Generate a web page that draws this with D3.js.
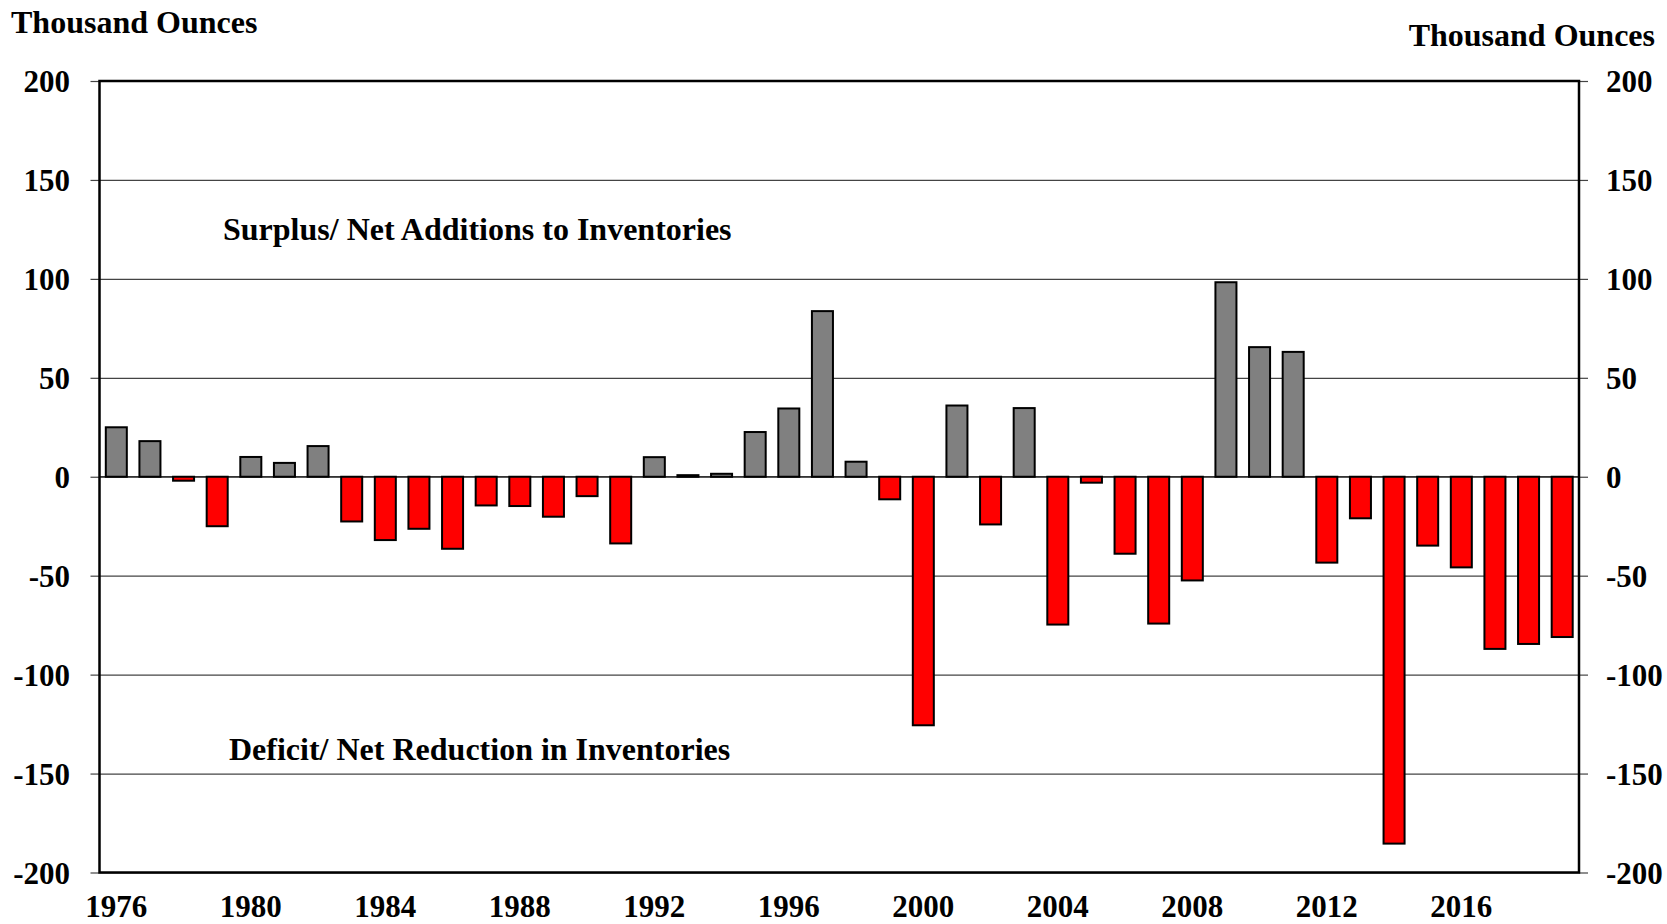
<!DOCTYPE html>
<html>
<head>
<meta charset="utf-8">
<script src="https://cdn.jsdelivr.net/npm/d3@7"></script>
<style>
  body { margin: 0; background: #fff; }
  text { font-family: "Liberation Serif", "Times New Roman", serif; font-weight: bold; fill: #000; }
</style>
</head>
<body>
<div class="barChart"></div>
<script>
// Data
var years = [1976, 1977, 1978, 1979, 1980, 1981, 1982, 1983, 1984, 1985,
             1986, 1987, 1988, 1989, 1990, 1991, 1992, 1993, 1994, 1995,
             1996, 1997, 1998, 1999, 2000, 2001, 2002, 2003, 2004, 2005,
             2006, 2007, 2008, 2009, 2010, 2011, 2012, 2013, 2014, 2015,
             2016, 2017, 2018, 2019];
var balance = [25, 18, -2, -25, 10, 7, 15.5, -22.6, -32, -26.3,
               -36.4, -14.5, -14.8, -20.2, -9.8, -33.7, 9.9, 0.8, 1.5, 22.6,
               34.5, 83.7, 7.6, -11.4, -125.6, 36, -24.1, 34.7, -74.7, -3,
               -38.9, -74.2, -52.4, 98.3, 65.5, 63.1, -43.4, -21, -185.4, -34.8,
               -45.8, -87, -84.5, -81];
var yTicks = [-200, -150, -100, -50, 0, 50, 100, 150, 200];
var yearLabels = [1976, 1980, 1984, 1988, 1992, 1996, 2000, 2004, 2008, 2012, 2016];
var unitLabel = 'Thousand Ounces';
var surplusNote = 'Surplus/ Net Additions to Inventories';
var deficitNote = 'Deficit/ Net Reduction in Inventories';

var margin = { top: 81, right: 88, bottom: 51.5, left: 99.5 };
var width = 1667 - margin.left - margin.right;
var height = 924 - margin.top - margin.bottom;

var root = d3.select('.barChart')
  .append('svg')
    .attr('width', 1667)
    .attr('height', 924);

var svg = root.append('g')
    .attr('transform', 'translate(' + margin.left + ', ' + margin.top + ')');

var data = years.map((y, i) => ({ year: y, value: balance[i] }));

var xScale = d3.scaleBand()
  .domain(years)
  .range([0, width])
  .paddingInner(0.375)
  .paddingOuter(0.1875);

var yScale = d3.scaleLinear()
  .domain([-200, 200])
  .range([height, 0]);

var plainNum = d => String(d); // plain hyphen for negatives, like the original

// gridlines
svg.append('g')
  .attr('class', 'grid')
  .call(d3.axisLeft(yScale).tickValues(yTicks).tickSize(-width).tickFormat(''))
  .call(g => g.select('.domain').remove())
  .call(g => g.selectAll('line').attr('stroke', '#444').attr('stroke-width', 1.2));

// left axis labels + outward ticks
svg.append('g')
  .call(d3.axisLeft(yScale).tickValues(yTicks).tickSize(9).tickPadding(20.5).tickFormat(plainNum))
  .call(g => g.select('.domain').remove())
  .call(g => g.selectAll('line').attr('stroke', '#444').attr('stroke-width', 1.2))
  .call(g => g.selectAll('text').attr('font-size', 31).attr('dy', '0.35em'));

// right axis labels + outward ticks
svg.append('g')
  .attr('transform', `translate(${width}, 0)`)
  .call(d3.axisRight(yScale).tickValues(yTicks).tickSize(9).tickPadding(18).tickFormat(plainNum))
  .call(g => g.select('.domain').remove())
  .call(g => g.selectAll('line').attr('stroke', '#444').attr('stroke-width', 1.2))
  .call(g => g.selectAll('text').attr('font-size', 31).attr('dy', '0.35em'));

// bottom year labels
svg.append('g')
  .attr('transform', `translate(0, ${height})`)
  .call(d3.axisBottom(xScale).tickValues(yearLabels).tickSize(0))
  .call(g => g.select('.domain').remove())
  .call(g => g.selectAll('text').attr('font-size', 31).attr('y', 44.5).attr('dy', 0));

// zero line
svg.append('line')
  .attr('x1', 0).attr('x2', width)
  .attr('y1', yScale(0)).attr('y2', yScale(0))
  .attr('stroke', '#000').attr('stroke-width', 1.2);

// bars
svg.selectAll('rect.bar')
  .data(data)
  .enter()
  .append('rect')
  .attr('class', 'bar')
  .attr('x', d => xScale(d.year))
  .attr('y', d => yScale(Math.max(0, d.value)))
  .attr('width', xScale.bandwidth())
  .attr('height', d => Math.abs(yScale(d.value) - yScale(0)))
  .attr('fill', d => d.value >= 0 ? '#808080' : '#ff0000')
  .attr('stroke', '#000')
  .attr('stroke-width', 2);

// frame
svg.append('rect')
  .attr('x', 0).attr('y', 0)
  .attr('width', width).attr('height', height)
  .attr('fill', 'none')
  .attr('stroke', '#000')
  .attr('stroke-width', 2.5);

// notes inside the plot
svg.append('text')
  .attr('x', 223 - margin.left).attr('y', 240 - margin.top)
  .attr('font-size', 32)
  .text(surplusNote);

svg.append('text')
  .attr('x', 229 - margin.left).attr('y', 760 - margin.top)
  .attr('font-size', 32)
  .text(deficitNote);

// unit titles
root.append('text')
  .attr('x', 11).attr('y', 33)
  .attr('font-size', 32)
  .text(unitLabel);

root.append('text')
  .attr('x', 1655).attr('y', 46)
  .attr('text-anchor', 'end')
  .attr('font-size', 32)
  .text(unitLabel);
</script>
</body>
</html>
